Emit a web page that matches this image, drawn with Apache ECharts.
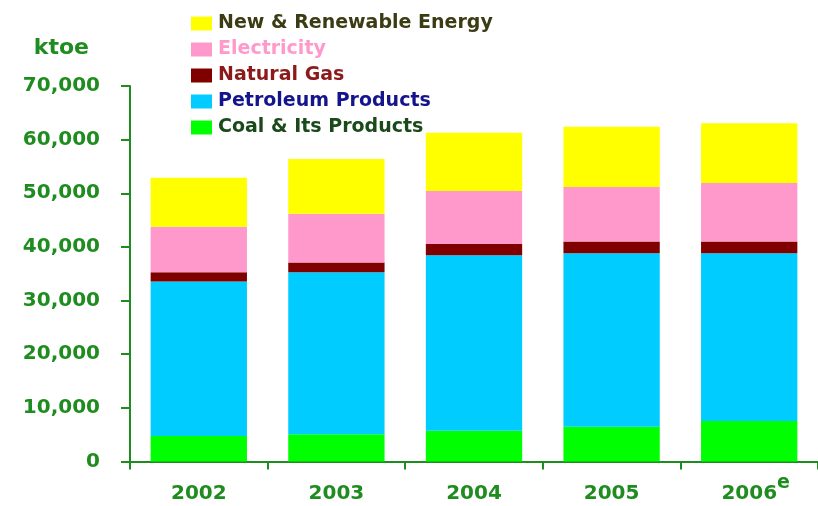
<!DOCTYPE html>
<html>
<head>
<meta charset="utf-8">
<script src="https://cdn.jsdelivr.net/npm/echarts@6/dist/echarts.min.js"></script>
<style>html,body{margin:0;padding:0;background:#fff;}#c{width:818px;height:506px;}</style>
</head>
<body>
<div id="c"></div>
<script>
var years = ['2002', '2003', '2004', '2005', '2006'];
var estimateMark = 'e';
var coal = [4740, 5060, 5720, 6470, 7530];
var petroleum = [28810, 30220, 32720, 32340, 31280];
var naturalGas = [1730, 1800, 2120, 2180, 2180];
var electricity = [8490, 9110, 9850, 10160, 10910];
var renewable = [9110, 10220, 10890, 11270, 11150];
var yTicks = [0, 10000, 20000, 30000, 40000, 50000, 60000, 70000];

var GREEN = '#1f8c1f';
var FONT = 'DejaVu Sans';

var chart = echarts.init(document.getElementById('c'));
function s(name, data, color) {
  return { name: name, type: 'bar', stack: 'total', data: data, barCategoryGap: '30%',
    itemStyle: { color: color }, emphasis: { disabled: true } };
}
chart.setOption({
  animation: false,
  backgroundColor: '#ffffff',
  grid: { left: 130, right: 0, top: 86, bottom: 44.5, outerBoundsMode: 'none', containLabel: false },
  legend: {
    orient: 'vertical', left: 191, top: 14, padding: 0,
    itemWidth: 21, itemHeight: 14, itemGap: 7,
    icon: 'rect',
    selectedMode: false,
    textStyle: { fontFamily: FONT, fontWeight: 'bold', fontSize: 19, lineHeight: 19, padding: [0, 0, 0, 1] },
    data: [
      { name: 'New & Renewable Energy', textStyle: { color: '#3c3c14' } },
      { name: 'Electricity', textStyle: { color: '#ff99cc' } },
      { name: 'Natural Gas', textStyle: { color: '#8c1a1a' } },
      { name: 'Petroleum Products', textStyle: { color: '#14148c' } },
      { name: 'Coal & Its Products', textStyle: { color: '#1a4a1a' } }
    ]
  },
  xAxis: {
    type: 'category', data: years,
    axisLine: { lineStyle: { color: GREEN, width: 2 } },
    axisTick: { show: true, length: 8, interval: 0, lineStyle: { color: GREEN, width: 2 } },
    axisLabel: {
      margin: 12, interval: 0,
      color: GREEN, fontFamily: FONT, fontWeight: 'bold', fontSize: 20,
      formatter: function (v, i) {
        if (i === years.length - 1) return '{pad|}{a|' + v + '}{e|' + estimateMark + '}';
        return '{a|' + v + '}';
      },
      rich: {
        pad: { width: 13 },
        a: { color: GREEN, fontFamily: FONT, fontWeight: 'bold', fontSize: 20, lineHeight: 40 },
        e: { color: GREEN, fontFamily: FONT, fontWeight: 'bold', fontSize: 19, lineHeight: 20, verticalAlign: 'top' }
      }
    }
  },
  yAxis: {
    type: 'value', min: 0, max: 70000, interval: 10000,
    name: 'ktoe', nameLocation: 'end', nameGap: 27,
    nameTextStyle: { color: GREEN, fontFamily: FONT, fontWeight: 'bold', fontSize: 22, align: 'right', padding: [0, 41, 0, 0] },
    axisLine: { show: true, lineStyle: { color: GREEN, width: 2 } },
    axisTick: { show: true, length: 9, lineStyle: { color: GREEN, width: 2 } },
    splitLine: { show: false },
    axisLabel: {
      margin: 30, color: GREEN, fontFamily: FONT, fontWeight: 'bold', fontSize: 20,
      formatter: function (v) { return v.toLocaleString('en-US'); }
    }
  },
  series: [
    s('Coal & Its Products', coal, '#00ff00'),
    s('Petroleum Products', petroleum, '#00ccff'),
    s('Natural Gas', naturalGas, '#800000'),
    s('Electricity', electricity, '#ff99cc'),
    s('New & Renewable Energy', renewable, '#ffff00')
  ]
});
</script>
</body>
</html>
